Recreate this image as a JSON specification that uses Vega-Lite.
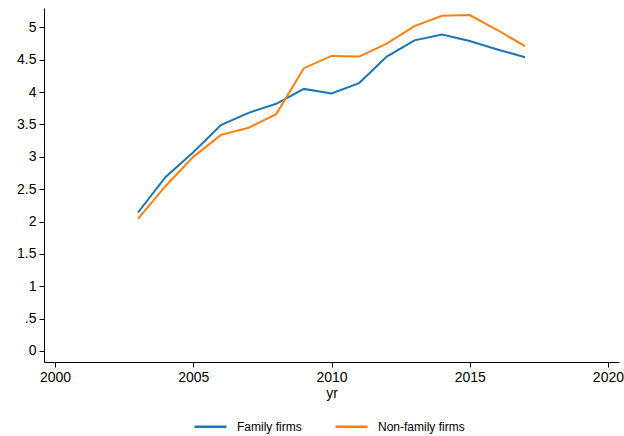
{
  "$schema": "https://vega.github.io/schema/vega-lite/v6.json",
  "width": 575,
  "height": 354,
  "autosize": {"type": "none"},
  "padding": {"left": 44, "top": 8, "right": 5, "bottom": 74},
  "background": "white",
  "config": {
    "view": {"stroke": null},
    "font": "Liberation Sans",
    "axis": {"grid": false, "domainColor": "black", "tickColor": "black", "labelColor": "black", "titleColor": "black", "labelFont": "Liberation Sans", "titleFont": "Liberation Sans", "titleFontWeight": "normal"}
  },
  "data": {"values": [
    {"yr": 2003, "series": "Family firms", "v": 2.14},
    {"yr": 2004, "series": "Family firms", "v": 2.69},
    {"yr": 2005, "series": "Family firms", "v": 3.07},
    {"yr": 2006, "series": "Family firms", "v": 3.49},
    {"yr": 2007, "series": "Family firms", "v": 3.68},
    {"yr": 2008, "series": "Family firms", "v": 3.82},
    {"yr": 2009, "series": "Family firms", "v": 4.05},
    {"yr": 2010, "series": "Family firms", "v": 3.98},
    {"yr": 2011, "series": "Family firms", "v": 4.14},
    {"yr": 2012, "series": "Family firms", "v": 4.55},
    {"yr": 2013, "series": "Family firms", "v": 4.80},
    {"yr": 2014, "series": "Family firms", "v": 4.89},
    {"yr": 2015, "series": "Family firms", "v": 4.79},
    {"yr": 2016, "series": "Family firms", "v": 4.66},
    {"yr": 2017, "series": "Family firms", "v": 4.54},
    {"yr": 2003, "series": "Non-family firms", "v": 2.04},
    {"yr": 2004, "series": "Non-family firms", "v": 2.55},
    {"yr": 2005, "series": "Non-family firms", "v": 3.0},
    {"yr": 2006, "series": "Non-family firms", "v": 3.34},
    {"yr": 2007, "series": "Non-family firms", "v": 3.45},
    {"yr": 2008, "series": "Non-family firms", "v": 3.66},
    {"yr": 2009, "series": "Non-family firms", "v": 4.37},
    {"yr": 2010, "series": "Non-family firms", "v": 4.56},
    {"yr": 2011, "series": "Non-family firms", "v": 4.55},
    {"yr": 2012, "series": "Non-family firms", "v": 4.75},
    {"yr": 2013, "series": "Non-family firms", "v": 5.02},
    {"yr": 2014, "series": "Non-family firms", "v": 5.18},
    {"yr": 2015, "series": "Non-family firms", "v": 5.19},
    {"yr": 2016, "series": "Non-family firms", "v": 4.96},
    {"yr": 2017, "series": "Non-family firms", "v": 4.71}
  ]},
  "mark": {"type": "line", "strokeWidth": 2},
  "encoding": {
    "x": {
      "field": "yr", "type": "quantitative",
      "scale": {"domain": [1999.6, 2020.4], "nice": false, "zero": false},
      "axis": {"values": [2000, 2005, 2010, 2015, 2020], "format": "d", "labelFontSize": 14, "titleFontSize": 14, "tickSize": 5, "labelPadding": 3, "titlePadding": 2, "title": "yr", "labelFlush": false}
    },
    "y": {
      "field": "v", "type": "quantitative",
      "scale": {"domain": [-0.17, 5.3], "nice": false, "zero": false},
      "axis": {"values": [0, 0.5, 1, 1.5, 2, 2.5, 3, 3.5, 4, 4.5, 5], "labelExpr": "datum.value == 0.5 ? '.5' : format(datum.value, '~g')", "labelFontSize": 14, "tickSize": 5, "labelPadding": 3, "title": null}
    },
    "color": {
      "field": "series", "type": "nominal",
      "scale": {"domain": ["Family firms", "Non-family firms"], "range": ["#1a76b4", "#ff7f0e"]},
      "legend": {"title": null, "orient": "none", "direction": "horizontal", "legendX": 149, "legendY": 401, "symbolType": "stroke", "symbolSize": 1024, "symbolStrokeWidth": 2.5, "labelFontSize": 12, "labelFont": "Liberation Sans", "labelColor": "black", "columnPadding": 28, "labelOffset": 9, "padding": 0}
    }
  }
}
